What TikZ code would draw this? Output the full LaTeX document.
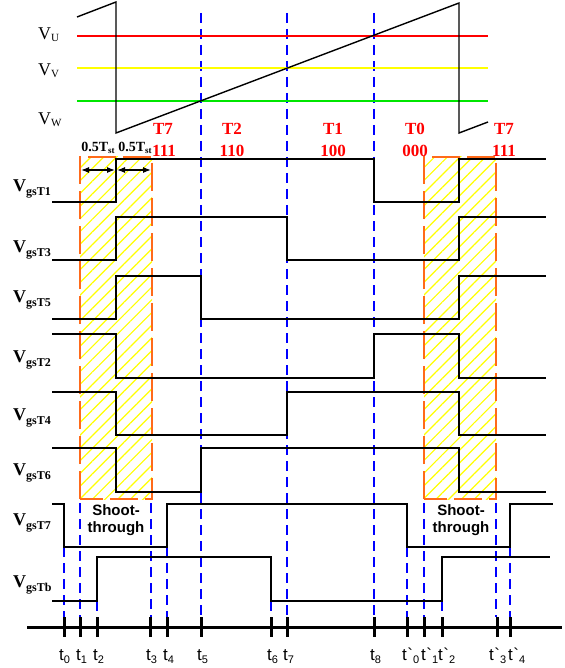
\documentclass[tikz,border=0pt]{standalone}
\usepackage{fontspec}
\setmainfont{Liberation Serif}
\setsansfont{Liberation Sans}
\usepackage{tikz}
\usetikzlibrary{arrows.meta,patterns.meta}
\definecolor{SVRed}{HTML}{FF0000}
\definecolor{SVYellow}{HTML}{FFFF00}
\definecolor{SVGreen}{HTML}{00E600}
\definecolor{SVBlue}{HTML}{0000FF}
\definecolor{SVOrange}{HTML}{FF6A1A}
\newcommand{\vlbl}[1]{{\fontsize{18}{18}\selectfont V\raisebox{-2pt}{\fontsize{11}{11}\selectfont #1}}}
\newcommand{\gslbl}[1]{{\fontsize{18}{18}\selectfont\bfseries V\raisebox{-4pt}{\fontsize{12}{12}\selectfont gs#1}}}
\newcommand{\tlbl}[1]{{\sffamily\fontsize{17}{17}\selectfont t\raisebox{-3pt}{\fontsize{11}{11}\selectfont #1}}}
\newcommand{\tplbl}[1]{{\sffamily\fontsize{17}{17}\selectfont t\kern.5pt\textasciigrave\raisebox{-3pt}{\fontsize{11}{11}\selectfont #1}}}
\newcommand{\stlbl}{{\fontsize{14}{14}\selectfont\bfseries 0.5T\raisebox{-2pt}{\fontsize{9}{9}\selectfont st}}}

\begin{document}
\begin{tikzpicture}[x=1pt,y=-1pt,
  wave/.style={black,line width=1.4pt},
  level/.style={line width=1.4pt},
  guide/.style={SVBlue,line width=1.5pt,dash pattern=on 10pt off 6pt},
  hatch/.style={pattern={Lines[angle=45,distance=9pt,line width=1.2pt]},pattern color=SVYellow},
  stbox/.style={SVOrange,line width=1.4pt,dash pattern=on 28pt off 7pt},
  tick/.style={black,line width=3pt},
  state/.style={SVRed,font=\fontsize{17}{17}\selectfont\bfseries,anchor=base},
  shoot/.style={font=\sffamily\bfseries\fontsize{15}{17}\selectfont,align=center}]
\path[use as bounding box] (0,0) rectangle (564,668);
\fill[white] (0,0) rectangle (564,668);
\fill[hatch] (80,157) rectangle (152,499);
\fill[hatch] (424,157) rectangle (496,499);
\draw[stbox] (80,499) -- (80,157) -- (152,157) -- (152,499) -- cycle;
\draw[stbox] (424,499) -- (424,157) -- (496,157) -- (496,499) -- cycle;
\draw[guide] (201,13) -- (201,617);
\draw[guide] (287,13) -- (287,617);
\draw[guide] (374,13) -- (374,617);
\draw[guide] (64,547) -- (64,617);
\draw[guide] (80,503) -- (80,617);
\draw[guide] (97,601) -- (97,617);
\draw[guide] (151,503) -- (151,617);
\draw[guide] (167,547) -- (167,617);
\draw[guide] (271,601) -- (271,617);
\draw[guide] (407,547) -- (407,617);
\draw[guide] (424,503) -- (424,617);
\draw[guide] (442,601) -- (442,617);
\draw[guide] (496,503) -- (496,617);
\draw[guide] (510,547) -- (510,617);
\draw[level,SVRed] (77,36) -- (488,36);
\draw[level,SVYellow] (77,68) -- (488,68);
\draw[level,SVGreen] (77,101) -- (488,101);
\draw[wave] (77,17) -- (116,2) -- (116,133) -- (459,3) -- (459,133) -- (488,122);
\draw[wave] (52,202) -| (116,159) -| (374,202) -| (459,159) -- (546,159);
\draw[wave] (52,260) -| (116,217) -| (287,260) -| (459,217) -- (546,217);
\draw[wave] (52,319) -| (116,276) -| (201,319) -| (459,276) -- (546,276);
\draw[wave] (52,334) -| (116,378) -| (374,334) -| (459,378) -- (546,378);
\draw[wave] (52,392) -| (116,435) -| (287,392) -| (459,435) -- (546,435);
\draw[wave] (52,448) -| (116,492) -| (201,448) -| (459,492) -- (546,492);
\draw[wave] (52,504) -| (64,547) -| (167,504) -| (407,547) -| (510,504) -- (553,504);
\draw[wave] (52,601) -| (97,557) -| (271,601) -| (442,557) -- (550,557);
\draw[black,line width=1.2pt,{Latex[length=8pt,width=6pt]}-{Latex[length=8pt,width=6pt]}] (81,170) -- (115,170);
\draw[black,line width=1.2pt,{Latex[length=8pt,width=6pt]}-{Latex[length=8pt,width=6pt]}] (117,170) -- (151,170);
\node[anchor=base] (stA) at (98,152) {\stlbl};
\node[anchor=base] (stB) at (135,152) {\stlbl};
\node[anchor=base west,inner sep=0pt] (vU) at (38,40) {\vlbl{U}};
\node[anchor=base west,inner sep=0pt] (vV) at (38,76) {\vlbl{V}};
\node[anchor=base west,inner sep=0pt] (vW) at (38,125) {\vlbl{W}};
\node[state] (sT7a) at (163,135) {T7};
\node[state] (cT7a) at (164,157) {111};
\node[state] (sT2) at (232,135) {T2};
\node[state] (cT2) at (232,157) {110};
\node[state] (sT1) at (333,135) {T1};
\node[state] (cT1) at (333,157) {100};
\node[state] (sT0) at (415,135) {T0};
\node[state] (cT0) at (415,157) {000};
\node[state] (sT7b) at (504,135) {T7};
\node[state] (cT7b) at (504,157) {111};
\node[anchor=base west,inner sep=0pt] (gT1) at (13,192) {\gslbl{T1}};
\node[anchor=base west,inner sep=0pt] (gT3) at (13,252) {\gslbl{T3}};
\node[anchor=base west,inner sep=0pt] (gT5) at (13,302) {\gslbl{T5}};
\node[anchor=base west,inner sep=0pt] (gT2) at (13,362) {\gslbl{T2}};
\node[anchor=base west,inner sep=0pt] (gT4) at (13,420) {\gslbl{T4}};
\node[anchor=base west,inner sep=0pt] (gT6) at (13,475) {\gslbl{T6}};
\node[anchor=base west,inner sep=0pt] (gT7) at (13,525) {\gslbl{T7}};
\node[anchor=base west,inner sep=0pt] (gTb) at (13,587) {\gslbl{Tb}};
\node[shoot] (shA) at (116,520) {Shoot-\\through};
\node[shoot] (shB) at (461,520) {Shoot-\\through};
\draw[line width=3pt] (27,627) -- (562,627);
\draw[tick] (64,617) -- (64,637);
\draw[tick] (80,617) -- (80,637);
\draw[tick] (97,617) -- (97,637);
\draw[tick] (150,617) -- (150,637);
\draw[tick] (167,617) -- (167,637);
\draw[tick] (201,617) -- (201,637);
\draw[tick] (271,617) -- (271,637);
\draw[tick] (287,617) -- (287,637);
\draw[tick] (374,617) -- (374,637);
\draw[tick] (407,617) -- (407,637);
\draw[tick] (424,617) -- (424,637);
\draw[tick] (442,617) -- (442,637);
\draw[tick] (497,617) -- (497,637);
\draw[tick] (510,617) -- (510,637);
\node[anchor=base west,inner sep=0pt] (t0) at (59,660) {\tlbl{0}};
\node[anchor=base west,inner sep=0pt] (t1) at (76,660) {\tlbl{1}};
\node[anchor=base west,inner sep=0pt] (t2) at (93,660) {\tlbl{2}};
\node[anchor=base west,inner sep=0pt] (t3) at (146,660) {\tlbl{3}};
\node[anchor=base west,inner sep=0pt] (t4) at (163,660) {\tlbl{4}};
\node[anchor=base west,inner sep=0pt] (t5) at (197,660) {\tlbl{5}};
\node[anchor=base west,inner sep=0pt] (t6) at (267,660) {\tlbl{6}};
\node[anchor=base west,inner sep=0pt] (t7) at (283,660) {\tlbl{7}};
\node[anchor=base west,inner sep=0pt] (t8) at (370,660) {\tlbl{8}};
\node[anchor=base west,inner sep=0pt] (u0) at (402,660) {\tplbl{0}};
\node[anchor=base west,inner sep=0pt] (u1) at (421,660) {\tplbl{1}};
\node[anchor=base west,inner sep=0pt] (u2) at (438,660) {\tplbl{2}};
\node[anchor=base west,inner sep=0pt] (u3) at (489,660) {\tplbl{3}};
\node[anchor=base west,inner sep=0pt] (u4) at (508,660) {\tplbl{4}};
\end{tikzpicture}
\end{document}
